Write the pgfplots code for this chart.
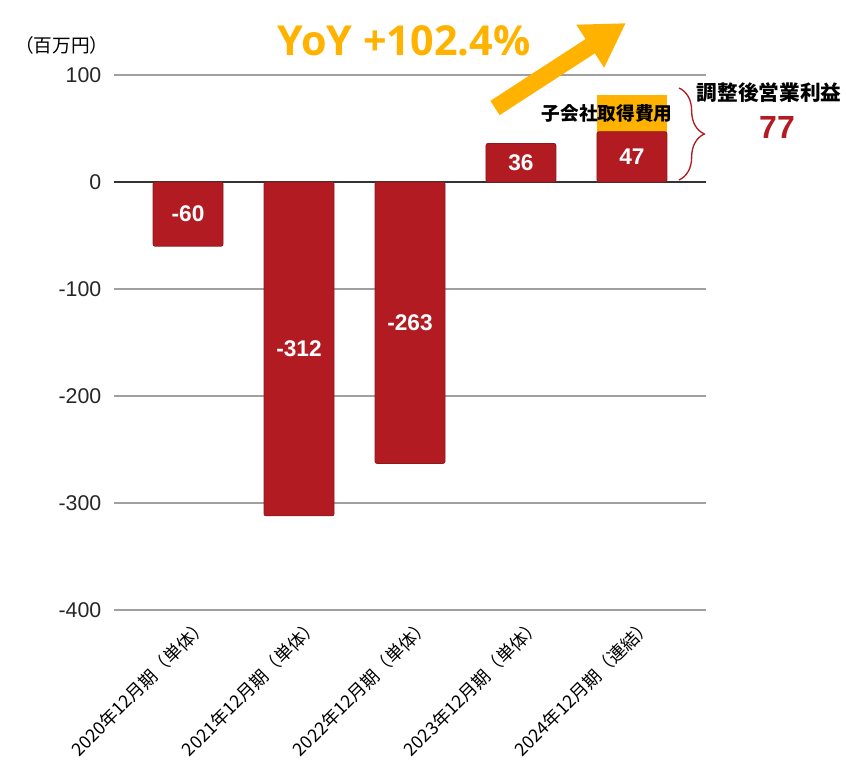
\documentclass[border=0pt]{standalone}
\usepackage{fontspec}
\setmainfont{Liberation Sans}
\newfontfamily\cjk{Noto Sans CJK JP}
\newfontfamily\yoyfont{Open Sans}
\usepackage{pgfplots}
\usepackage{pgfplotstable}
\pgfplotsset{compat=1.18}
\usetikzlibrary{arrows.meta,decorations.pathreplacing}
\definecolor{barred}{HTML}{B31B22}
\definecolor{baredge}{HTML}{8E1A1E}
\definecolor{accent}{HTML}{FFB300}
\definecolor{gridgray}{HTML}{A0A0A0}

% operating profit, million yen
\pgfplotstableread{
x y lab
0 -60 -60
1 -312 -312
2 -263 -263
3 36 36
4 47 47
}\results
% top of the acquisition-cost block
\pgfplotstableread{
x y
4 81
}\acq

\begin{document}
\begin{tikzpicture}
\begin{scope}[x=0.75pt,y=-0.75pt,yshift=567.75pt]
\path[use as bounding box] (0,0) rectangle (846,757);
\end{scope}

\begin{axis}[
  at={(85.5pt,110.25pt)}, anchor=south west,
  scale only axis, width=444pt, height=401.25pt,
  xmin=-0.667, xmax=4.667, ymin=-400, ymax=100,
  axis line style={draw=none},
  major tick length=0pt,
  xtick={0,...,4},
  xticklabels={2020年12月期（単体）,2021年12月期（単体）,2022年12月期（単体）,2023年12月期（単体）,2024年12月期（連結）},
  ytick={-400,-300,-200,-100,100},
  yticklabels={-400,-300,-200,-100,100},
  extra y ticks={0}, extra y tick labels={0},
  extra y tick style={grid style={draw=black!80, line width=1pt}},
  ymajorgrids, grid style={draw=gridgray, line width=0.9pt},
  yticklabel style={font=\fontsize{16}{16}\selectfont, text=black!85, xshift=-6pt},
  xticklabel style={xshift=8pt, yshift=-3pt, rotate=45, anchor=north east, inner sep=1pt,
    font=\cjk\fontsize{13.4}{13.4}\selectfont},
  clip=false,
]
\addplot[ybar, bar width=52.5pt, bar shift=0pt, fill=accent, draw=none] table[x=x,y=y]{\acq};
\addplot[ybar, bar width=52.5pt, bar shift=0pt, fill=barred, draw=baredge, line width=0.6pt,
  rounded corners=1.5pt,
  nodes near coords, point meta=explicit symbolic,
  visualization depends on=rawy\as\rawy,
  every node near coord/.append style={anchor=center, shift={(axis direction cs:0,-0.5*\rawy)},
    text=white, font=\bfseries\fontsize{17}{17}\selectfont}]
  table[x=x,y=y,meta=lab]{\results};
\end{axis}

\begin{scope}[x=0.75pt,y=-0.75pt,yshift=567.75pt]
\node[font=\cjk\fontsize{14}{14}\selectfont] at (62,45) {（百万円）};
\node[font=\yoyfont\bfseries\fontsize{31}{31}\selectfont, text=accent] at (404,41) {YoY +102.4\%};
\draw[accent, line width=12.75pt, -{Triangle[length=32pt,width=36pt]}] (495,108) -- (626,23);
\node[font=\cjk\bfseries\fontsize{14}{14}\selectfont] at (607,113) {子会社取得費用};
\draw[barred, line width=1pt, decorate, decoration={brace, amplitude=19pt}] (679,88) -- (679,180);
\node[font=\cjk\bfseries\fontsize{15.5}{15.5}\selectfont] at (769,93) {調整後営業利益};
\node[font=\bfseries\fontsize{24}{24}\selectfont, text=barred] at (777,127) {77};
\end{scope}
\end{tikzpicture}
\end{document}
